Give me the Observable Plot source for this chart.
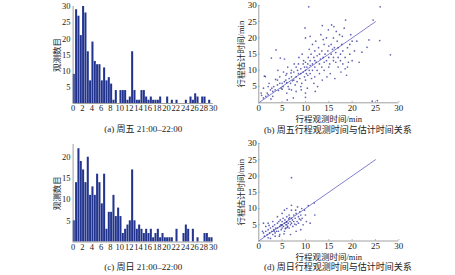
<!DOCTYPE html>
<html><head><meta charset="utf-8">
<script src="https://cdn.jsdelivr.net/npm/d3@7"></script>
<script src="https://cdn.jsdelivr.net/npm/@observablehq/plot@0.6"></script>
<style>
body{margin:0;background:#fff;}
#wrap{position:relative;width:455px;height:275px;overflow:hidden;background:#fff;}
#wrap > svg{position:absolute;}
</style></head><body><div id="wrap"></div>
<script>
// ---- data ----
const binWidth = 0.5;
const histXTicks = [0,2,4,6,8,10,12,14,16,18,20,22,24,26,28,30];
const friYTicks = [5,10,15,20,25,30];
const sunYTicks = [5,10,15,20];
const friCounts = [9,29,27,21,30,28,16,7,19,13,
  12,12,7,11,7,8,6,1,4,0,
  4,4,4,1,2,16,4,1,1,4,
  4,2,1,2,1,1,1,2,0,0,
  2,0,1,0,1,0,0,0,1,0,
  2,1,3,2,0,2,2,0,1,0];
const sunCounts = [5,14,22,19,17,14,20,11,13,11,
  16,14,9,16,3,7,7,11,6,8,
  6,2,3,4,5,17,5,3,4,3,
  2,3,2,3,1,2,3,1,2,1,
  1,1,1,0,3,0,0,2,4,3,
  0,3,0,1,0,0,2,2,1,1];
const scatterTicksX = [0,5,10,15,20,25,30];
const scatterTicksY = [5,10,15,20,25,30];
const refLineX = [0,25];
const refLineY = [0,25];
const friPoints = [
 [1,1.5],[1.5,2],[2,2.5],[1.8,3],[2.5,4],[3,3.5],[3.2,5],[2.8,4.5],[3.5,4],[4,5.5],[4.2,3.8],[4.5,6],[4.8,4.5],[1,4.5],[2,5],[3,2],[4,7],[4.5,8],[1.2,8.2],[2.2,6],[3.6,7.2],[0.5,3],[2.6,1.2],[5,4.2],
 [5,6],[5.5,6.5],[5.2,5],[5.8,7],[6,6.2],[6,9],[6.3,5],[6.5,7.5],[6.8,6],[7,8],[7,10],[7.2,6.8],[7.5,7],[7.5,9.5],[7.8,5.5],[8,8],[8,11],[8.2,6.5],[8.5,9],[8.5,12],[8.8,7.5],[9,9],[9,10.5],[9.2,6],[9.5,9.5],[9.5,12],[9.8,8],[9.8,11],[10,10],[10,12.5],[10,7],[6,3],[7,4],[8,3.5],[9,5],[6.2,11],[5.5,13.5],[7.6,12],[8.6,14],[9.3,15],[5.8,8.5],[6.9,9.2],[8.3,10],[9.6,13],[9.1,4],[10,3],[7.4,1.5],[6.5,4.2],[5.3,9.5],[4.1,10],
 [10.2,9],[10.3,11],[10.5,12],[10.5,8.5],[10.6,14],[10.8,10],[11,11.5],[11,9],[11,13],[11.2,15],[11.3,7.5],[11.5,12],[11.5,10],[11.8,14],[12,11],[12,13],[12,16],[12,8],[12.3,12.5],[12.5,10],[12.5,14.5],[12.8,17],[13,12],[13,15],[13,9],[13.2,13.5],[13.5,11],[13.5,16],[13.8,14],[14,12.5],[14,18],[14,10],[14.2,15],[14.5,13],[14.5,20],[14.8,16],[15,14],[15,11],[15,17.5],[11.5,18],[12.2,19],[10.8,16.5],[13.3,21],[12.6,5],[11.8,6],[13.6,7],[14.6,8],[10.4,4.5],[12.1,3.5],[14.9,22.5],[13.8,19.5],[11,20.5],
 [15.2,12],[15.5,15],[15.5,18],[15.8,16.5],[16,13],[16,14],[16,20],[16.2,17],[16.5,12.5],[16.5,15.5],[16.8,19],[17,14],[17,17],[17,11],[17.3,21],[17.5,15],[17.5,13],[17.8,18],[18,12],[18,16],[18.5,14],[18.5,10.5],[19,17],[19,11],[19.5,15],[19.5,18],[20,19],[20,13],[15.3,9],[16.3,7.5],[17.6,9.5],[18.8,8.5],[19.2,12.5],[16.6,22],[15.6,24],[17.9,20.5],[18.3,23],[19.7,21],
 [10.7,29.6],[26,29.6],[28.2,14.8],[25.9,19.2],[23.6,19.4],[23.2,17.1],[22.1,15.6],[18.6,25.5],[16.1,23.5],[13.6,23.8],[9.9,23.1],[10,20],[3.7,16.3],[2.7,13.8],[4.6,13.8],[1.4,8.1],[0.6,2.3],[6.1,0.9],[10,1.7],[24.3,0.5],[25.4,0.7],[21,19],[20.5,16],[21.5,12.5],[24.5,25.5]
];
const sunPoints = [
 [1,2.5],[1.2,1.5],[1.5,3],[1.8,2],[2,3.5],[2,1],[2.3,2.5],[2.5,4],[2.8,3],[3,2],[3,4.5],[3.2,3.5],[3.4,5],[3.5,2.5],[3.6,4],[3.8,3],[4,5.5],[4,4],[4.2,3],[4.3,6],[4.5,4.5],[4.5,2],[4.7,5],[4.8,3.5],[5,6],[5,4],[5,5],[5.2,7],[5.3,4.5],[5.5,5.5],[5.5,3],[5.6,6.5],[5.8,5],[5.8,4],[6,6],[6,5],[6,7.5],[6.2,4.5],[6.3,5.5],[6.4,6.8],[6.5,4],[6.5,8],[6.7,6],[6.8,5],[7,7],[7,5.5],[7,9.5],[7.2,6.5],[7.3,4.5],[7.5,8],[7.5,6],[7.8,7],[7.9,9.5],[8,5],[8,8.5],[8.2,6],[8.5,7.5],[8.5,5.5],[8.8,9],[9,6.5],[9,8],[9.3,7],[9.5,5],[9.8,9.5],[10,8],[10.6,10.9],[11.9,11.7],[10.2,6],[11,5.5],[12,8],[3,6],[2,5.5],[1.5,4.5],[4,7.5],[5,8.5],[6,10],[7,11],[8,3],[6.8,2],[9,3.5],[3.5,1.5],[2.5,0.8],[5.5,9.5],[4.6,6.5],[5.9,5.8],[6.1,4.2],[5.7,3.8],[4.9,4.8],[7,19.5],[0.8,3],[1,5.5],[8.3,10.5],[9.2,10],[6.6,7.2],[3.3,3],[2.2,4.8],[7.7,5.2],[8.7,6.8],[5.4,2.2],[4.4,1.5]
];
const labels = {
  histY: "观测数目",
  capA: "(a) 周五 21:00–22:00",
  capC: "(c) 周日 21:00–22:00",
  scatY: "行程估计时间/min",
  scatX: "行程观测时间/min",
  capB: "(b) 周五行程观测时间与估计时间关系",
  capD: "(d) 周日行程观测时间与估计时间关系"
};

// ---- drawing ----
const FONT = "'Liberation Serif', 'Noto Sans CJK SC', serif";
const wrap = document.getElementById("wrap");

function hist(counts, yMax, yTicks, caption, left, top, h, mt, mb, capDy) {
  const data = counts.map((n, i) => ({x1: i * binWidth, x2: i * binWidth + binWidth, n}));
  const svg = Plot.plot({
    width: 227, height: h,
    marginLeft: 72.6, marginRight: 14.3, marginTop: mt, marginBottom: mb,
    style: {fontFamily: FONT, fontSize: "8.5px", background: "transparent", overflow: "visible", color: "#222"},
    x: {domain: [0, 30]},
    y: {domain: [0, yMax]},
    marks: [
      Plot.rect(data, {x1: "x1", x2: "x2", y1: 0, y2: "n", fill: "#22348e", insetLeft: 0.15, insetRight: 0.15}),
      Plot.ruleX([0], {stroke: "#888", strokeWidth: 0.8}),
      Plot.ruleY([0], {stroke: "#888", strokeWidth: 0.8}),
      Plot.axisX({ticks: histXTicks, tickSize: 0, tickPadding: 1.5, label: null, tickFormat: d => d}),
      Plot.axisY({ticks: yTicks, tickSize: 0, tickPadding: 2.5, label: null}),
      Plot.text([labels.histY], {text: d => d, frameAnchor: "left", dx: -15.5, rotate: -90, textAnchor: "middle", lineAnchor: "middle", fontSize: 8.5, fontFamily: FONT, fill: "#222"}),
      Plot.text([caption], {text: d => d, frameAnchor: "bottom", dy: capDy, textAnchor: "middle", lineAnchor: "middle", fontSize: 9, fontFamily: FONT, fill: "#222"})
    ]
  });
  svg.style.left = left + "px";
  svg.style.top = top + "px";
  wrap.appendChild(svg);
}

function scatter(points, caption, left, top, h, mt, mb, xlDy, capDy) {
  const line = refLineX.map((x, i) => ({x, y: refLineY[i]}));
  const svg = Plot.plot({
    width: 230, height: h,
    marginLeft: 33.3, marginRight: 56.7, marginTop: mt, marginBottom: mb,
    style: {fontFamily: FONT, fontSize: "9px", background: "transparent", overflow: "visible", color: "#222"},
    x: {domain: [0, 30]},
    y: {domain: [0, 30]},
    marks: [
      Plot.ruleX([0], {stroke: "#888", strokeWidth: 0.8}),
      Plot.ruleY([0], {stroke: "#888", strokeWidth: 0.8}),
      Plot.axisX({ticks: scatterTicksX, tickSize: 0, tickPadding: 1.5, label: null}),
      Plot.axisY({ticks: scatterTicksY, tickSize: 0, tickPadding: 2, label: null}),
      Plot.ruleX(scatterTicksX.slice(1), {x: d => d, y1: 0, y2: 0.45, stroke: "#888", strokeWidth: 0.6}),
      Plot.ruleY(scatterTicksY, {y: d => d, x1: 0, x2: 0.3, stroke: "#888", strokeWidth: 0.6}),
      Plot.line(line, {x: "x", y: "y", stroke: "#7272c8", strokeWidth: 0.9}),
      Plot.dot(points, {x: d => d[0], y: d => d[1], r: 0.85, fill: "#2f2f9e", fillOpacity: 0.75, stroke: null}),
      Plot.text([labels.scatY], {text: d => d, frameAnchor: "left", dx: -18, rotate: -90, textAnchor: "middle", lineAnchor: "middle", fontSize: 8.5, fontFamily: FONT, fill: "#222"}),
      Plot.text([labels.scatX], {text: d => d, frameAnchor: "bottom", dy: xlDy, textAnchor: "middle", lineAnchor: "middle", fontSize: 8.5, fontFamily: FONT, fill: "#222"}),
      Plot.text([caption], {text: d => d, frameAnchor: "bottom", dx: 9, dy: capDy, textAnchor: "middle", lineAnchor: "middle", fontSize: 9, fontFamily: FONT, fill: "#222"})
    ]
  });
  svg.style.left = left + "px";
  svg.style.top = top + "px";
  wrap.appendChild(svg);
}

hist(friCounts, 30, friYTicks, labels.capA, 0, 0, 138, 6, 35, 26);
hist(sunCounts, 23, sunYTicks, labels.capC, 0, 138, 137, 6, 33.5, 25.2);
scatter(friPoints, labels.capB, 225, 0, 138, 5, 35.7, 16.5, 27);
scatter(sunPoints, labels.capD, 225, 138, 137, 5, 34.5, 16.5, 26.5);
</script></body></html>
